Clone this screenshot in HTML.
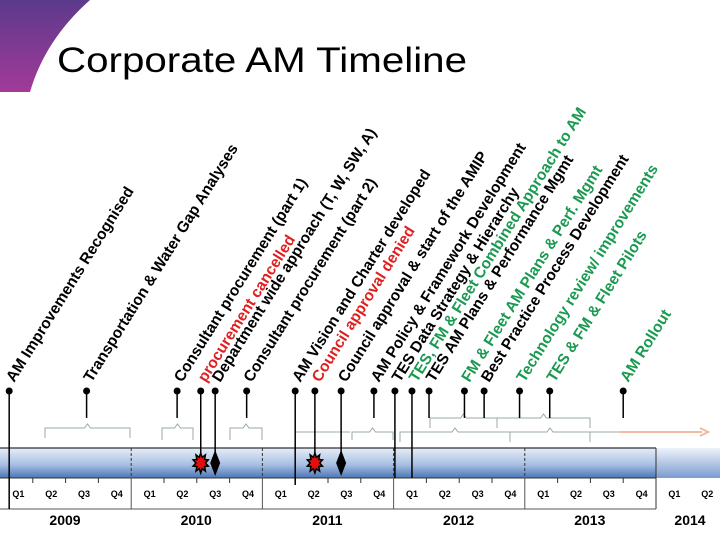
<!DOCTYPE html>
<html><head><meta charset="utf-8"><style>
html,body{margin:0;padding:0;background:#fff}
svg{display:block;font-family:"Liberation Sans",sans-serif}
</style></head><body>
<svg id="c" width="720" height="540" viewBox="0 0 720 540">
<defs>
<linearGradient id="pg" x1="0" y1="0" x2="0" y2="1"><stop offset="0" stop-color="#5c3a8c"/><stop offset="1" stop-color="#a23a98"/></linearGradient>
<linearGradient id="bg" x1="0" y1="0" x2="0" y2="1"><stop offset="0" stop-color="#e6edf8"/><stop offset="0.55" stop-color="#a9c0e2"/><stop offset="1" stop-color="#4a76b8"/></linearGradient>
<linearGradient id="bg2" x1="0" y1="0" x2="0" y2="1"><stop offset="0" stop-color="#eef2fa"/><stop offset="1" stop-color="#7b9cd0"/></linearGradient>
</defs>
<path d="M0,0 L90,0 Q45,40 30,92 L0,92 Z" fill="url(#pg)"/>
<text x="57" y="72" font-size="35" textLength="410" lengthAdjust="spacingAndGlyphs" fill="#000">Corporate AM Timeline</text>
<g id="bar"></g>
<g id="br"></g>
<g id="ev"></g>
</svg>
<script>
const years=["2009","2010","2011","2012","2013","2014"];
const quarters=["Q1","Q2","Q3","Q4"];
const labels=["AM Improvements Recognised","Transportation & Water Gap Analyses","Consultant procurement (part 1)","procurement cancelled","Department wide approach (T, W, SW, A)","Consultant procurement (part 2)","AM Vision and Charter developed","Council approval denied","Council approval & start of the AMIP","AM Policy & Framework Development","TES Data Strategy & Hierarchy","TES, FM & Fleet Combined Approach to AM","TES AM Plans & Performance Mgmt","FM & Fleet AM Plans & Perf. Mgmt","Best Practice Process Development","Technology review/ improvements","TES & FM & Fleet Pilots","AM Rollout"];
const dates=[2009.07,2009.66,2010.35,2010.53,2010.64,2010.88,2011.25,2011.40,2011.60,2011.85,2012.01,2012.14,2012.27,2012.54,2012.69,2012.96,2013.19,2013.75];
const kinds=["line","","","star","diamond","","line","star","diamond","","dline","line","","","","","",""];
const colors=["k","k","k","r","k","k","k","r","k","k","k","g","k","g","k","g","g","g"];
const X=t=>(t-2009)*131.2;
const ns="http://www.w3.org/2000/svg";
function mk(p,tag,a){const e=document.createElementNS(ns,tag);for(const k in a)e.setAttribute(k,a[k]);p.appendChild(e);return e;}
const bar=document.getElementById('bar');
let r=mk(bar,'rect',{x:0,y:448,width:X(2014),height:30,fill:'url(#bg)'});


let r2=mk(bar,'rect',{x:X(2014),y:448,width:720-X(2014),height:30,fill:'url(#bg2)'});


mk(bar,'line',{x1:0,y1:448,x2:X(2014),y2:448,stroke:'#333','stroke-width':1.2});
mk(bar,'line',{x1:0,y1:478,x2:X(2014),y2:478,stroke:'#333','stroke-width':1});
mk(bar,'line',{x1:X(2014),y1:448,x2:X(2014),y2:509,stroke:'#333'});
mk(bar,'line',{x1:0,y1:509,x2:X(2014),y2:509,stroke:'#555'});
years.forEach((y,i)=>{
  const x0=X(2009+i);
  if(i>0&&i<5){mk(bar,'line',{x1:x0,y1:448,x2:x0,y2:478,stroke:'#333','stroke-dasharray':'3,2'});mk(bar,'line',{x1:x0,y1:478,x2:x0,y2:509,stroke:'#555'});}
  const t=mk(bar,'text',{x:i===5?x0+34:x0+65,y:525,'font-size':14,'font-weight':'bold','text-anchor':'middle',fill:'#000'});
  t.textContent=y;
  
  
  quarters.forEach((q,j)=>{
    if(i===5&&j>1)return;
    const qx=x0+(j+0.5)*32.8+2;
    if(j>0&&i<5)mk(bar,'line',{x1:x0+j*32.8,y1:478,x2:x0+j*32.8,y2:483,stroke:'#333'});
    const qt=mk(bar,'text',{x:qx,y:497,'font-size':9,'font-weight':'bold','text-anchor':'middle',fill:'#000'});
    qt.textContent=q;
    
    
  });
});
const br=document.getElementById('br');
function brace(a,b,y,h){const m=(a+b)/2;mk(br,'path',{d:`M${a},${y+h} L${a},${y} L${m-3},${y} L${m},${y-4} L${m+3},${y} L${b},${y} L${b},${y+h}`,fill:'none',stroke:'#9aa','stroke-width':1});}
[[45,130,428,10],[162,193,428,12],[230,262,428,12],[352,393,432,8],[430,497,418,10],[497,590,418,10]].forEach(b=>brace(...b));
brace(400,510,432,10);brace(510,590,432,10);
mk(br,'line',{x1:295,y1:432,x2:350,y2:432,stroke:'#9aa'});
mk(br,'line',{x1:590,y1:432,x2:620,y2:432,stroke:'#9aa'});
mk(br,'line',{x1:620,y1:432,x2:702,y2:432,stroke:'#f2b9a0','stroke-width':2});
mk(br,'path',{d:'M700,428 L708,432 L700,436',fill:'none',stroke:'#f2b9a0','stroke-width':2});
const ev=document.getElementById('ev');
const col={k:'#000',r:'#e02020',g:'#1a9a50'};
labels.forEach((l,i)=>{
  const x=X(dates[i]);const k=kinds[i];
  let y2=k==='line'?(i===0?509:(i===6?485:478)):k==='dline'?478:(k?463:418);
  mk(ev,'line',{x1:x,y1:391,x2:x,y2:y2,stroke:'#000','stroke-width':1.5});
  if(k==='star'){
    let d='';for(let n=0;n<20;n++){const a=n*Math.PI/10,rr=n%2?6:10;d+=(n?'L':'M')+(x+rr*Math.sin(a)*0.8).toFixed(1)+','+(463-rr*Math.cos(a)).toFixed(1);}
    const s=mk(ev,'path',{d:d+'Z',fill:'#e01010',stroke:'#000','stroke-width':1.5});
    
    
  } else if(k==='diamond'){
    const s=mk(ev,'path',{d:`M${x},450 L${x+5},463 L${x},476 L${x-5},463 Z`,fill:'#000'});
    
    
  }
  const c=mk(ev,'circle',{cx:x,cy:391,r:3.5,fill:'#000'});
  
  
  const t=mk(ev,'text',{transform:`translate(${x+5},383) rotate(-58)`,'font-size':15.5,'font-weight':'bold',fill:col[colors[i]]});
  t.textContent=l;
  
  
});
</script>
</body></html>
